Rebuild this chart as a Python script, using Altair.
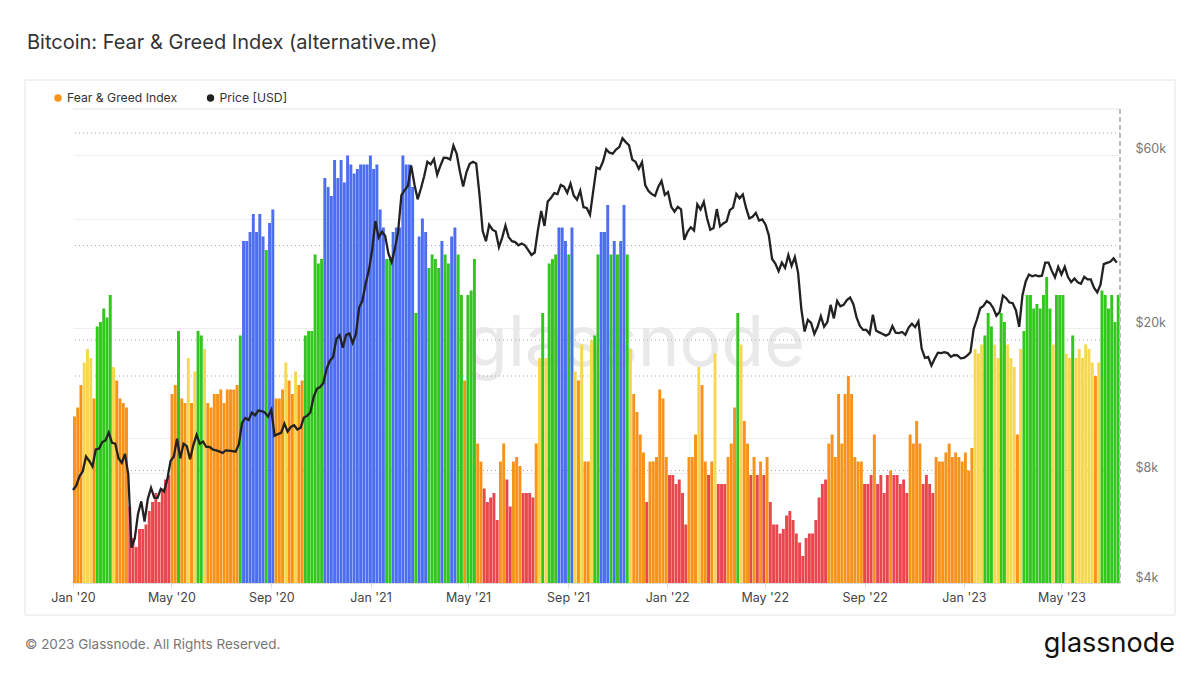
import altair as alt
import pandas as pd

# ---------------- data (4-day samples) ----------------
START_DATE = "2020-01-01"
STEP_DAYS = 4

fear_greed = [
    37, 39, 44, 49, 52, 50, 41, 57, 58, 61, 59, 64, 48, 45, 41, 40, 39, 17, 10, 8,
    12, 12, 13, 16, 18, 20, 18, 21, 23, 24, 42, 44, 56, 41, 40, 50, 40, 47, 56, 55,
    52, 40, 39, 42, 42, 43, 40, 43, 43, 43, 44, 55, 76, 76, 78, 82, 78, 82, 77, 74,
    80, 83, 41, 41, 43, 49, 45, 42, 47, 44, 45, 55, 56, 56, 73, 71, 72, 90, 88, 86,
    94, 90, 94, 89, 95, 93, 91, 92, 93, 93, 93, 95, 92, 93, 83, 79, 72, 72, 78, 79,
    79, 95, 93, 93, 88, 60, 77, 81, 78, 70, 73, 72, 70, 76, 73, 71, 77, 79, 73, 64,
    45, 64, 65, 72, 31, 27, 21, 18, 19, 20, 14, 27, 31, 23, 17, 27, 28, 26, 20, 20,
    20, 19, 31, 50, 60, 50, 71, 72, 73, 79, 79, 76, 73, 79, 47, 45, 53, 27, 27, 54,
    55, 73, 78, 78, 84, 73, 76, 73, 76, 84, 73, 52, 42, 38, 33, 29, 18, 27, 27, 28,
    43, 41, 28, 24, 24, 22, 23, 20, 13, 28, 28, 33, 48, 44, 27, 24, 27, 51, 22, 22,
    22, 28, 31, 39, 60, 53, 36, 31, 24, 28, 24, 27, 24, 28, 18, 13, 13, 11, 12, 15,
    16, 14, 11, 9, 6, 10, 11, 11, 14, 19, 22, 23, 31, 33, 28, 42, 31, 42, 46, 42,
    28, 27, 27, 22, 22, 24, 33, 22, 24, 20, 24, 25, 24, 24, 22, 23, 20, 33, 31, 36,
    31, 22, 24, 22, 20, 28, 27, 27, 29, 31, 28, 29, 28, 27, 29, 25, 30, 52, 51, 53,
    55, 60, 57, 53, 50, 60, 58, 53, 50, 48, 33, 52, 56, 64, 64, 61, 62, 61, 64, 68,
    61, 53, 64, 64, 64, 51, 50, 55, 50, 52, 50, 53, 52, 49, 46, 49, 65, 64, 61, 64,
    58, 64,
]

price_usd = [
    7200, 7400, 7850, 8100, 8900, 8650, 8350, 9300, 9350, 9750,
    9850, 10350, 9700, 9650, 8800, 8550, 9050, 7950, 5000, 5300,
    6200, 6700, 5900, 6800, 7300, 6860, 6850, 7250, 7130, 7700,
    8650, 8900, 9950, 8800, 9650, 9500, 8750, 9550, 10200, 9650,
    9780, 9450, 9450, 9300, 9250, 9190, 9100, 9250, 9230, 9200,
    9170, 9600, 11000, 11350, 11200, 11750, 11550, 11900, 11850, 11750,
    11450, 11950, 10150, 10250, 10330, 10950, 10420, 10730, 10840, 10550,
    10670, 11380, 11500, 11750, 12950, 13650, 13800, 14150, 15480, 16300,
    16700, 18700, 19150, 17700, 19200, 19350, 18250, 19250, 22800, 23800,
    26500, 28900, 32800, 39400, 35500, 36800, 35900, 32100, 30400, 33100,
    36900, 46400, 47900, 49200, 56000, 49700, 45200, 48400, 52300, 57300,
    56400, 58300, 52800, 55900, 58800, 58700, 58100, 63500, 60300, 53800,
    49000, 53600, 56600, 57300, 56700, 46700, 37000, 34700, 38500, 37300,
    36900, 33400, 35500, 38300, 35600, 34700, 34500, 33800, 34200, 33800,
    32800, 31800, 32300, 37300, 42000, 38200, 44600, 45600, 47000, 46700,
    49500, 49000, 47100, 49900, 46300, 45100, 47700, 43000, 42800, 41000,
    47700, 55300, 54700, 57400, 62000, 60700, 60300, 61900, 62900, 66500,
    64900, 63600, 58100, 57300, 54800, 57200, 49400, 47600, 46700, 46200,
    48900, 50800, 46500, 47300, 43100, 41800, 43100, 42400, 35000, 36800,
    37900, 37100, 43800, 42400, 44500, 40100, 37300, 37700, 42500, 38100,
    38800, 39300, 42200, 42900, 46800, 45500, 46600, 42800, 40100, 40500,
    41500, 39500, 39800, 38500, 36000, 31000, 30100, 28700, 30300, 29300,
    31800, 29700, 31400, 28400, 22600, 19600, 21100, 20700, 19300, 20200,
    21600, 20200, 20800, 23200, 21300, 23800, 23000, 23200, 23900, 24300,
    23300, 21400, 20300, 19800, 19800, 19300, 21800, 19700, 19500, 19300,
    19100, 19300, 20300, 19450, 19400, 19550, 19200, 20100, 20600, 20150,
    20900, 17600, 16600, 16700, 15800, 16500, 17150, 17100, 17200, 17100,
    16700, 16900, 16850, 16550, 16600, 16830, 17200, 19900, 21150, 22700,
    23050, 23750, 23450, 22750, 21650, 22200, 24600, 24200, 23550, 23450,
    22400, 20200, 24650, 26900, 28100, 27800, 28000, 27800, 27900, 30300,
    30300, 28800, 27600, 29500, 28100, 29500, 27650, 26800, 27400, 26750,
    26500, 27700, 27250, 27250, 25850, 25100, 26350, 30000, 30250, 30450,
    31150, 30300,
]

threshold_levels = [25, 46, 54, 75, 100]
color_cuts = [25, 47, 55, 75]
color_range = ["#e8484d", "#f7931a", "#f5d84f", "#33c61f", "#4c6ef0"]

x_tick_dates = ["2020-01-01", "2020-05-01", "2020-09-01", "2021-01-01", "2021-05-01",
                "2021-09-01", "2022-01-01", "2022-05-01", "2022-09-01", "2023-01-01",
                "2023-05-01"]
x_domain_dates = ["2020-01-01", "2023-07-12"]
left_ticks = [0, 30, 60, 90]
right_ticks = [4000, 8000, 10000, 20000, 40000, 60000]
right_labelled = [4000, 8000, 20000, 60000]

# ---------------- frame ----------------
dates = pd.date_range(START_DATE, periods=len(fear_greed), freq=f"{STEP_DAYS}D")
df = pd.DataFrame({
    "date": dates.strftime("%Y-%m-%dT%H:%M:%SZ"),
    "end": (dates + pd.Timedelta(days=STEP_DAYS) - pd.Timedelta(hours=9)).strftime("%Y-%m-%dT%H:%M:%SZ"),
    "fg": fear_greed,
    "price": price_usd,
})


def ms(d):
    return int(pd.Timestamp(d, tz="UTC").value // 10**6)


W, H = 1047, 474
FONT = "Inter"

x_scale = alt.Scale(type="utc", domain=[ms(d) for d in x_domain_dates], nice=False)
left_scale = alt.Scale(domain=[0, 105.33], nice=False, zero=True)
right_scale = alt.Scale(type="log", domain=[4000, 80000], nice=False)

x_axis = alt.Axis(
    values=[ms(d) for d in x_tick_dates],
    labelExpr="utcFormat(datum.value, \"%b '%y\")",
    grid=False, domainColor="#dddddd", tickColor="#dddddd", tickSize=5,
    labelColor="#444444", labelFontSize=12.5, labelFont=FONT, labelPadding=3,
    title=None, labelFlush=False,
)
left_axis = alt.Axis(
    values=left_ticks, grid=True, gridColor="#eeeeee", domain=False, ticks=False,
    labelPadding=15, labelOffset=-6, labelColor="#777777", labelFontSize=12.5,
    labelFont=FONT, title=None,
)
right_label_test = " || ".join(f"datum.value == {v}" for v in right_labelled)
right_axis = alt.Axis(
    orient="right", values=right_ticks, grid=True, gridColor="#eeeeee",
    domain=False, ticks=False, labelPadding=15, labelOffset=-6,
    labelAlign="left", labelColor="#777777", labelFontSize=12.5, labelFont=FONT,
    labelExpr=f"({right_label_test}) ? '$' + format(datum.value / 1000, 'd') + 'k' : ''",
    title=None,
)

one = pd.DataFrame({"t": [""]})


def txt(text, x, y, **kw):
    return alt.Chart(pd.DataFrame({"t": [text]})).mark_text(font=FONT, **kw).encode(
        text="t:N", x=alt.value(x), y=alt.value(y))


watermark = txt("glassnode", 562, 236, fontSize=70, color="#e9e9e9",
                align="center", baseline="middle")

rules = alt.Chart(pd.DataFrame({"lvl": threshold_levels})).mark_rule(
    color="#a8a8a8", strokeDash=[1, 3], strokeWidth=1
).encode(y=alt.Y("lvl:Q", scale=left_scale, axis=None))

bars = alt.Chart(df).mark_bar(strokeWidth=0).encode(
    x=alt.X("date:T", scale=x_scale, axis=x_axis),
    x2="end:T",
    y=alt.Y("fg:Q", scale=left_scale, axis=left_axis),
    y2=alt.datum(0),
    color=alt.Color("fg:Q", scale=alt.Scale(type="threshold", domain=color_cuts,
                                            range=color_range), legend=None),
)

price = alt.Chart(df).mark_line(color="#222222", strokeWidth=2.3).encode(
    x=alt.X("date:T", scale=x_scale),
    y=alt.Y("price:Q", scale=right_scale, axis=right_axis),
)

top_line = alt.Chart(one).mark_rule(color="#e6e6e6", strokeWidth=1).encode(
    x=alt.value(0), x2=alt.value(W), y=alt.value(0))
end_line = alt.Chart(one).mark_rule(color="#bdbdbd", strokeWidth=2, strokeDash=[5, 3]).encode(
    x=alt.value(W), y=alt.value(0), y2=alt.value(H))
box = alt.Chart(one).mark_rect(fill="transparent", stroke="#e4e4e4", strokeWidth=1).encode(
    x=alt.value(-48), x2=alt.value(1102), y=alt.value(-29), y2=alt.value(506))

leg_dot1 = alt.Chart(one).mark_circle(size=55, color="#f7931a", opacity=1).encode(
    x=alt.value(-15), y=alt.value(-11))
leg_dot2 = alt.Chart(one).mark_circle(size=55, color="#222222", opacity=1).encode(
    x=alt.value(137.5), y=alt.value(-11))
leg_t1 = txt("Fear & Greed Index", -6, -11, fontSize=12.2, color="#333333",
             align="left", baseline="middle")
leg_t2 = txt("Price [USD]", 146.5, -11, fontSize=12.2, color="#333333",
             align="left", baseline="middle")

title = txt("Bitcoin: Fear & Greed Index (alternative.me)", -46, -66, fontSize=20,
            color="#333333", align="left", baseline="middle")
footer = txt("\u00a9 2023 Glassnode. All Rights Reserved.", -48, 536, fontSize=13.5,
             color="#777777", align="left", baseline="middle")
logo = txt("glassnode", 1102, 535, fontSize=27, color="#111111",
           align="right", baseline="middle")

inner = alt.layer(rules, bars)

chart = alt.layer(
    box, watermark, top_line, inner, price, end_line,
    leg_dot1, leg_dot2, leg_t1, leg_t2, title, footer, logo,
).resolve_scale(y="independent").properties(
    width=W, height=H,
    autosize=alt.AutoSizeParams(type="none"),
    padding={"left": 65, "top": 101, "right": 72, "bottom": 80},
    background="white",
).configure_view(stroke=None)

chart.save("out.html", embed_options={"renderer": "svg", "actions": False})
